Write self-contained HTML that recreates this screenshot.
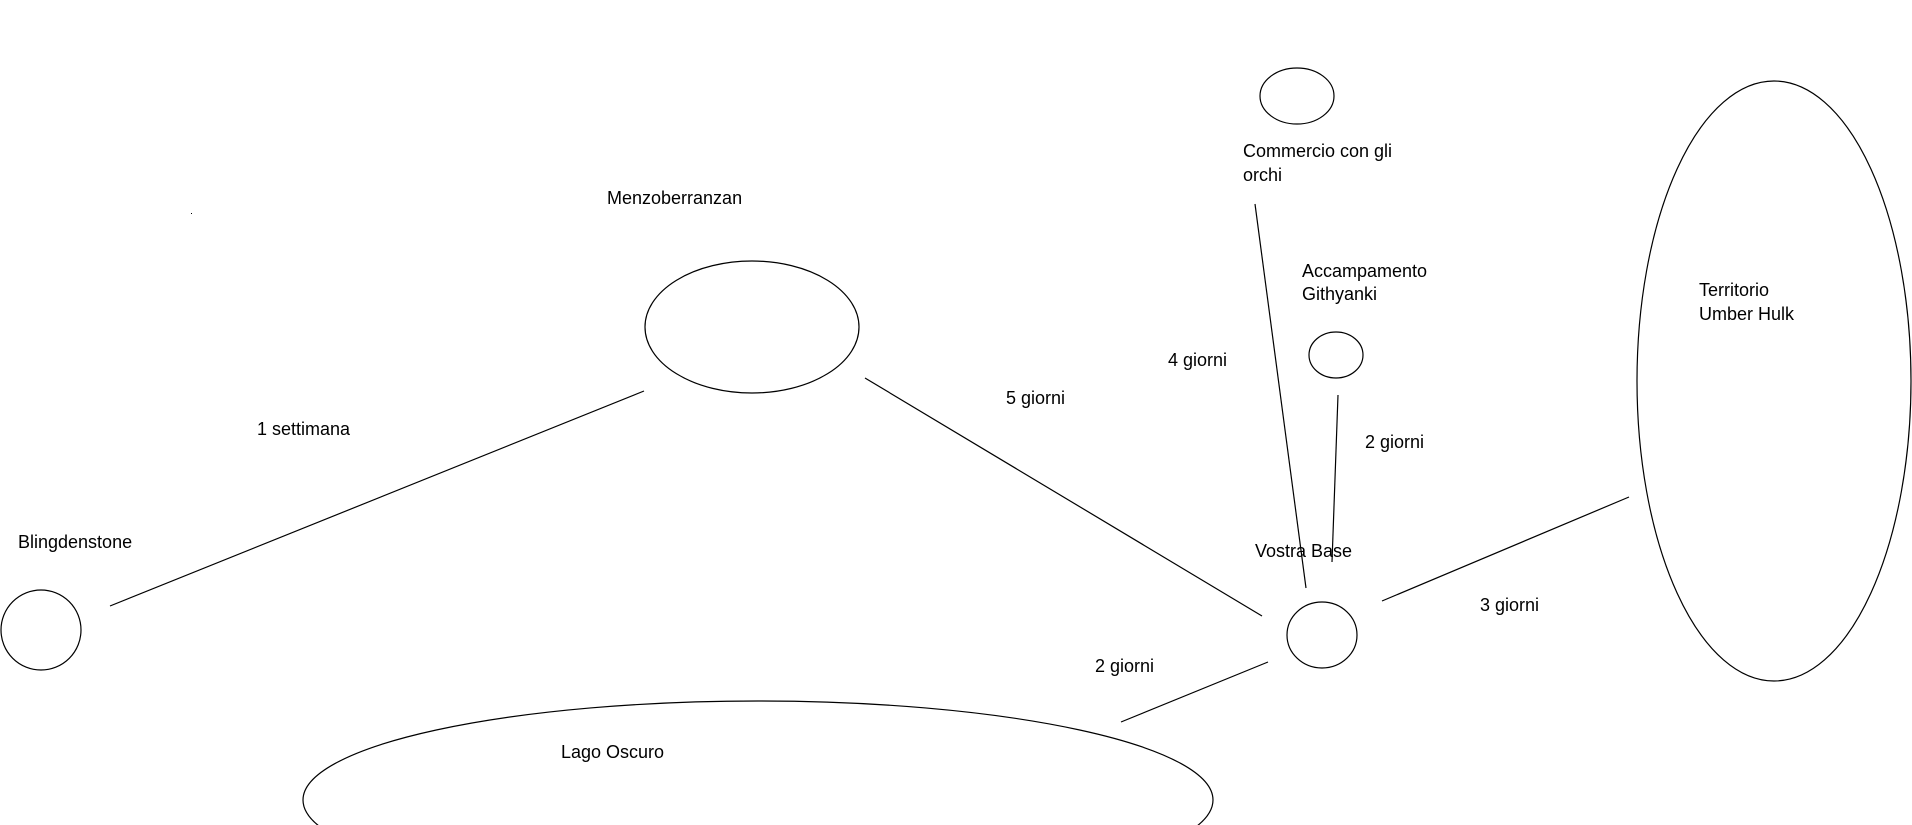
<!DOCTYPE html>
<html><head><meta charset="utf-8"><style>html,body{margin:0;padding:0;background:#fff;width:1912px;height:825px;overflow:hidden}svg{overflow:hidden}</style></head>
<body>
<svg width="1912" height="825" viewBox="0 0 1912 825" xmlns="http://www.w3.org/2000/svg" style="display:block">
<g fill="none" stroke="#000" stroke-width="1.2">
<ellipse cx="752" cy="327" rx="107" ry="66"/>
<ellipse cx="41" cy="630" rx="40" ry="40"/>
<ellipse cx="1322" cy="635" rx="35" ry="33"/>
<ellipse cx="1297" cy="96" rx="37" ry="28"/>
<ellipse cx="1336" cy="355" rx="27" ry="23"/>
<ellipse cx="1774" cy="381" rx="137" ry="300"/>
<ellipse cx="758" cy="800" rx="455" ry="99"/>
<line x1="110" y1="606" x2="644" y2="391"/>
<line x1="865" y1="378" x2="1262" y2="616"/>
<line x1="1255" y1="204" x2="1306" y2="588"/>
<line x1="1338" y1="395" x2="1332" y2="562"/>
<line x1="1382" y1="601" x2="1629" y2="497"/>
<line x1="1268" y1="662" x2="1121" y2="722"/>
</g>
<rect x="191" y="213" width="1" height="1" fill="#000"/>
<g font-family="Liberation Sans, sans-serif" font-size="18" fill="#000">
<text x="607" y="204">Menzoberranzan</text>
<text x="257" y="435">1 settimana</text>
<text x="18" y="548">Blingdenstone</text>
<text x="1006" y="404">5 giorni</text>
<text x="1243" y="157">Commercio con gli</text>
<text x="1243" y="181">orchi</text>
<text x="1302" y="277">Accampamento</text>
<text x="1302" y="300">Githyanki</text>
<text x="1168" y="366">4 giorni</text>
<text x="1699" y="296">Territorio</text>
<text x="1699" y="320">Umber Hulk</text>
<text x="1365" y="448">2 giorni</text>
<text x="1255" y="557">Vostra Base</text>
<text x="1480" y="611">3 giorni</text>
<text x="1095" y="672">2 giorni</text>
<text x="561" y="758">Lago Oscuro</text>
</g>
</svg>
</body></html>
